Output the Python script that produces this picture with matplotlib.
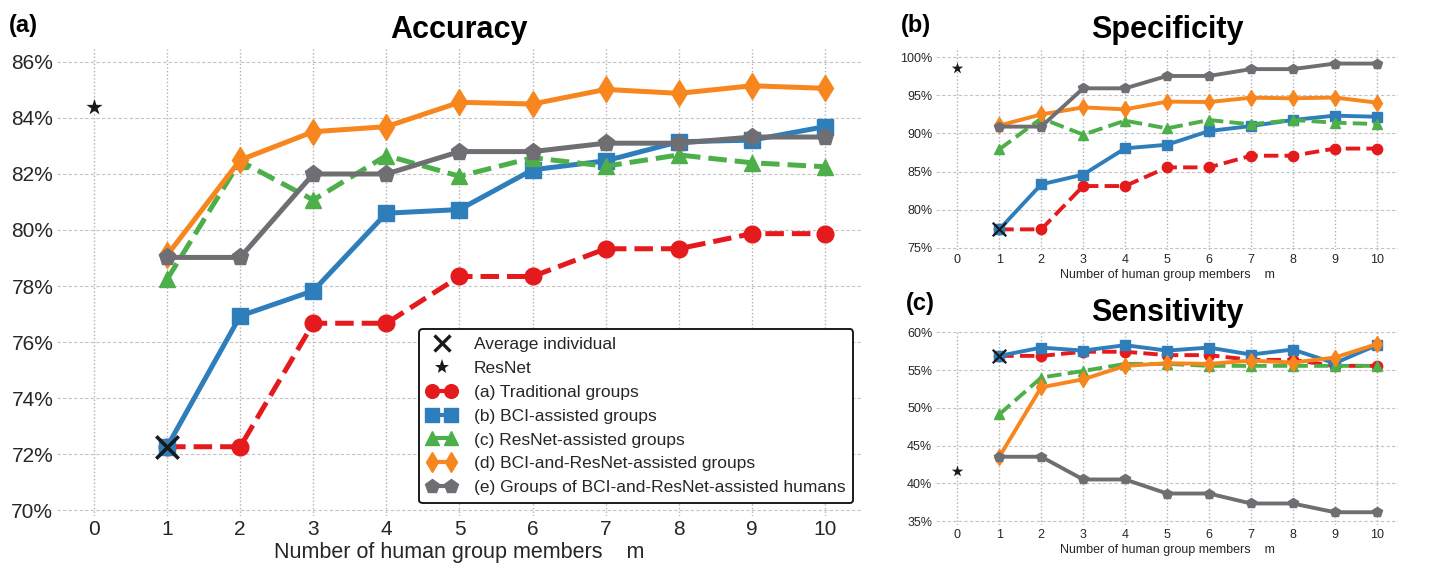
import matplotlib
matplotlib.use("Agg")
import matplotlib.pyplot as plt
from matplotlib.lines import Line2D
from matplotlib.legend_handler import HandlerLine2D
from matplotlib.ticker import FuncFormatter

plt.rcParams["font.family"] = ["Liberation Sans", "DejaVu Sans"]

m = [1, 2, 3, 4, 5, 6, 7, 8, 9, 10]

labels = [
    "(a) Traditional groups",
    "(b) BCI-assisted groups",
    "(c) ResNet-assisted groups",
    "(d) BCI-and-ResNet-assisted groups",
    "(e) Groups of BCI-and-ResNet-assisted humans",
]

# accuracy (%)
acc_trad = [72.26, 72.26, 76.67, 76.67, 78.34, 78.34, 79.33, 79.33, 79.87, 79.87]
acc_bci = [72.26, 76.93, 77.83, 80.60, 80.73, 82.15, 82.47, 83.15, 83.21, 83.69]
acc_resnet = [78.24, 82.46, 81.07, 82.66, 81.92, 82.58, 82.28, 82.68, 82.40, 82.26]
acc_both = [79.10, 82.50, 83.51, 83.69, 84.56, 84.50, 85.02, 84.88, 85.15, 85.06]
acc_humans = [79.02, 79.02, 82.00, 82.00, 82.80, 82.80, 83.10, 83.10, 83.32, 83.32]
acc_indiv = 72.26
acc_resnet_alone = 84.40

# specificity (%)
spe_trad = [77.41, 77.41, 83.10, 83.10, 85.55, 85.55, 87.08, 87.08, 88.02, 88.02]
spe_bci = [77.41, 83.32, 84.60, 88.05, 88.52, 90.32, 90.98, 91.77, 92.34, 92.20]
spe_resnet = [87.92, 91.99, 89.85, 91.68, 90.67, 91.77, 91.20, 91.77, 91.42, 91.24]
spe_both = [91.05, 92.50, 93.43, 93.17, 94.18, 94.13, 94.70, 94.62, 94.72, 94.05]
spe_humans = [90.90, 90.90, 95.93, 95.93, 97.55, 97.55, 98.45, 98.45, 99.18, 99.18]
spe_indiv = 77.41
spe_resnet_alone = 98.64

# sensitivity (%)
sen_trad = [56.90, 56.90, 57.45, 57.45, 57.00, 57.00, 56.37, 56.37, 55.58, 55.58]
sen_bci = [56.90, 58.00, 57.60, 58.32, 57.60, 58.00, 57.08, 57.74, 55.93, 58.32]
sen_resnet = [49.16, 54.03, 54.90, 55.84, 55.84, 55.58, 55.58, 55.58, 55.58, 55.58]
sen_both = [43.54, 52.74, 53.80, 55.58, 55.93, 55.84, 56.28, 56.02, 56.68, 58.45]
sen_humans = [43.54, 43.54, 40.53, 40.53, 38.67, 38.67, 37.35, 37.35, 36.19, 36.19]
sen_indiv = 56.90
sen_resnet_alone = 41.68

colors = ["#e41a1c", "#2f7ebc", "#4daf4a", "#f7861f", "#6f6f73"]
markers = ["o", "s", "^", "d", "p"]
styles = ["--", "-", "--", "-", "-"]
msizes = [12, 12, 12, 13, 12.5]

tick_color = "#262626"


def style_axes(ax, ylim, yticks, fs):
    ax.set_xlim(-0.5, 10.5)
    ax.set_ylim(*ylim)
    ax.set_xticks(range(0, 11))
    ax.set_yticks(yticks)
    ax.yaxis.set_major_formatter(FuncFormatter(lambda v, p: f"{v:.0f}%"))
    for s in ax.spines.values():
        s.set_visible(False)
    ax.tick_params(length=0, labelsize=fs, colors=tick_color, pad=3)
    ax.xaxis.grid(True, linestyle=(0, (1, 1.6)), color="#b0b0b0", lw=1.0)
    ax.yaxis.grid(True, linestyle=(0, (3, 2)), color="#c4c4c4", lw=0.8)
    ax.set_axisbelow(True)


def draw_panel(ax, series, indiv, resnet_alone, lw, msc, xs, ss):
    for vals, c, mk, ls, ms in zip(series, colors, markers, styles, msizes):
        ax.plot(m, vals, color=c, ls=ls, lw=lw, marker=mk, ms=ms * msc,
                mec=c, zorder=3)
    ax.scatter([1], [indiv], marker="x", s=xs, color="#1a1a1a",
               linewidths=2.6 * msc, zorder=5)
    ax.scatter([0], [resnet_alone], marker="*", s=ss, color="#1a1a1a",
               linewidths=0, zorder=5)


fig = plt.figure(figsize=(14.44, 5.65), dpi=100)

# (a) accuracy
ax_a = fig.add_axes([0.0398, 0.0874, 0.5568, 0.8252])
style_axes(ax_a, (69.8, 86.45), range(70, 87, 2), 15)
draw_panel(ax_a, [acc_trad, acc_bci, acc_resnet, acc_both, acc_humans],
           acc_indiv, acc_resnet_alone, 3.6, 1.0, 260, 150)
ax_a.set_xlabel("Number of human group members    m", fontsize=15.5,
                color=tick_color, labelpad=2)
ax_a.set_title("Accuracy", fontsize=22, fontweight="bold", pad=8)
fig.text(0.006, 0.955, "(a)", fontsize=17, fontweight="bold", va="center")

h_indiv = Line2D([], [], ls="none", marker="x", ms=11, mew=2.4, color="#1a1a1a")
h_resnet = Line2D([], [], ls="none", marker="*", ms=11, color="#1a1a1a", mew=0)
handles = [h_indiv, h_resnet]
for c, mk, ls, ms in zip(colors, markers, styles, msizes):
    handles.append(Line2D([], [], color=c, ls="-", lw=3.0, marker=mk,
                          ms=ms * 0.82, mec=c))
leg = ax_a.legend(handles, ["Average individual", "ResNet"] + labels,
                  loc="lower right", bbox_to_anchor=(0.99, 0.027),
                  borderaxespad=0, fontsize=12.5, numpoints=2,
                  handler_map={h_indiv: HandlerLine2D(numpoints=1),
                               h_resnet: HandlerLine2D(numpoints=1)},
                  handlelength=1.7, handletextpad=1.0, labelspacing=0.5,
                  borderpad=0.45, frameon=True, fancybox=True, framealpha=1)
leg.get_frame().set_edgecolor("#1a1a1a")
leg.get_frame().set_linewidth(1.4)
for t in leg.get_texts():
    t.set_color(tick_color)

# (b) specificity
ax_b = fig.add_axes([0.6485, 0.5575, 0.3194, 0.3552])
style_axes(ax_b, (74.7, 101.05), range(75, 101, 5), 9)
draw_panel(ax_b, [spe_trad, spe_bci, spe_resnet, spe_both, spe_humans],
           spe_indiv, spe_resnet_alone, 2.8, 0.62, 95, 75)
ax_b.set_xlabel("Number of human group members    m", fontsize=9,
                color=tick_color, labelpad=2)
ax_b.set_title("Specificity", fontsize=22, fontweight="bold", pad=8)
fig.text(0.624, 0.955, "(b)", fontsize=17, fontweight="bold", va="center")

# (c) sensitivity
ax_c = fig.add_axes([0.6485, 0.0708, 0.3194, 0.3434])
style_axes(ax_c, (34.5, 60.2), range(35, 61, 5), 9)
draw_panel(ax_c, [sen_trad, sen_bci, sen_resnet, sen_both, sen_humans],
           sen_indiv, sen_resnet_alone, 2.8, 0.62, 95, 75)
ax_c.set_xlabel("Number of human group members    m", fontsize=9,
                color=tick_color, labelpad=2)
ax_c.set_title("Sensitivity", fontsize=22, fontweight="bold", pad=7)
fig.text(0.627, 0.462, "(c)", fontsize=17, fontweight="bold", va="center")

fig.savefig("out.png", dpi=100, facecolor="white")
